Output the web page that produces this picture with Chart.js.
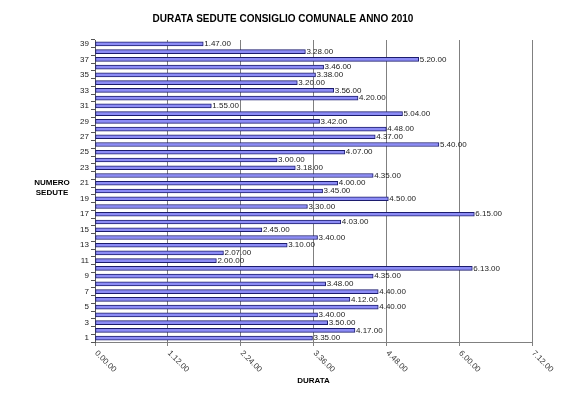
<!DOCTYPE html>
<html>
<head>
<meta charset="utf-8">
<script src="https://cdn.jsdelivr.net/npm/chart.js@4"></script>
<style>
  html, body { margin: 0; padding: 0; background: #fff; }
  #wrap { width: 567px; height: 397px; }
</style>
</head>
<body>
<div id="wrap"><canvas id="durataChart" width="567" height="397"></canvas></div>
<script>
/* ── Data ────────────────────────────────────────────────────── */
const sedute = ['1','2','3','4','5','6','7','8','9','10','11','12','13','14','15','16','17','18','19','20',
                '21','22','23','24','25','26','27','28','29','30','31','32','33','34','35','36','37','38','39'];

// durata di ogni seduta (ore.minuti.secondi)
const durate = ['3.35.00','4.17.00','3.50.00','3.40.00','4.40.00','4.12.00','4.40.00','3.48.00','4.35.00','6.13.00',
                '2.00.00','2.07.00','3.10.00','3.40.00','2.45.00','4.03.00','6.15.00','3.30.00','4.50.00','3.45.00',
                '4.00.00','4.35.00','3.18.00','3.00.00','4.07.00','5.40.00','4.37.00','4.48.00','3.42.00','5.04.00',
                '1.55.00','4.20.00','3.56.00','3.20.00','3.38.00','3.46.00','5.20.00','3.28.00','1.47.00'];

const xTickLabels = ['0.00.00','1.12.00','2.24.00','3.36.00','4.48.00','6.00.00','7.12.00'];

/* ── Helpers ─────────────────────────────────────────────────── */
function toMinutes(str) {
  const [h, m] = str.split('.');
  return parseInt(h) * 60 + parseInt(m);
}

const FONT = "'Liberation Sans', Arial, sans-serif";

/* ── Plugins: value labels, slanted x labels, titles ─────────── */
const extraText = {
  id: 'extraText',
  afterDatasetsDraw(chart) {
    const ctx = chart.ctx;
    const meta = chart.getDatasetMeta(0);
    ctx.save();
    ctx.font = `8px ${FONT}`;
    ctx.fillStyle = '#222';
    ctx.textAlign = 'left';
    ctx.textBaseline = 'middle';
    meta.data.forEach((bar, i) => {
      ctx.fillText(durate[i], bar.x + 1, bar.y);
    });
    ctx.restore();
  },
  afterDraw(chart) {
    const ctx = chart.ctx;
    const xs = chart.scales.x;
    const area = chart.chartArea;

    // slanted x tick labels
    ctx.save();
    ctx.font = `8px ${FONT}`;
    ctx.fillStyle = '#333';
    ctx.textAlign = 'left';
    ctx.textBaseline = 'middle';
    xTickLabels.forEach((lbl, i) => {
      const x = xs.getPixelForValue(i * 72);
      ctx.save();
      ctx.translate(x + 1, area.bottom + 10);
      ctx.rotate(Math.PI / 4);
      ctx.fillText(lbl, 0, 0);
      ctx.restore();
    });

    // main title
    ctx.font = `bold 10px ${FONT}`;
    ctx.fillStyle = '#000';
    ctx.textAlign = 'center';
    ctx.fillText('DURATA SEDUTE CONSIGLIO COMUNALE ANNO 2010', 283, 19);

    // axis titles
    ctx.font = `bold 8px ${FONT}`;
    ctx.fillText('DURATA', (area.left + area.right) / 2, 381);
    ctx.fillText('NUMERO', 52, 183);
    ctx.fillText('SEDUTE', 52, 193);
    ctx.restore();
  },
};

/* ── Chart ───────────────────────────────────────────────────── */
new Chart(document.getElementById('durataChart').getContext('2d'), {
  type: 'bar',
  data: {
    labels: sedute,
    datasets: [{
      label: 'Durata',
      data: durate.map(toMinutes),
      backgroundColor: '#8c8cf5',
      borderColor: '#1c1c6e',
      borderWidth: 1,
      borderSkipped: false,
      barThickness: 4,
    }],
  },
  options: {
    indexAxis: 'y',
    responsive: false,
    animation: false,
    layout: { padding: { top: 40, right: 35, bottom: 0, left: 0 } },
    plugins: {
      legend: { display: false },
      tooltip: { enabled: false },
    },
    scales: {
      x: {
        min: 0,
        max: 432,
        afterFit: s => { s.height = 55; },
        ticks: { display: false, stepSize: 72 },
        grid: { color: '#808080', lineWidth: 1, tickLength: 4 },
        border: { color: '#808080' },
      },
      y: {
        reverse: true,
        afterFit: s => { s.width = 95; },
        ticks: {
          autoSkip: false,
          font: { size: 8, family: FONT },
          color: '#222',
          padding: 2,
          callback: (v, i) => (i % 2 === 0 ? sedute[i] : ''),
        },
        grid: { drawOnChartArea: false, color: '#555', tickLength: 4 },
        border: { color: '#555' },
      },
    },
  },
  plugins: [extraText],
});
</script>
</body>
</html>
